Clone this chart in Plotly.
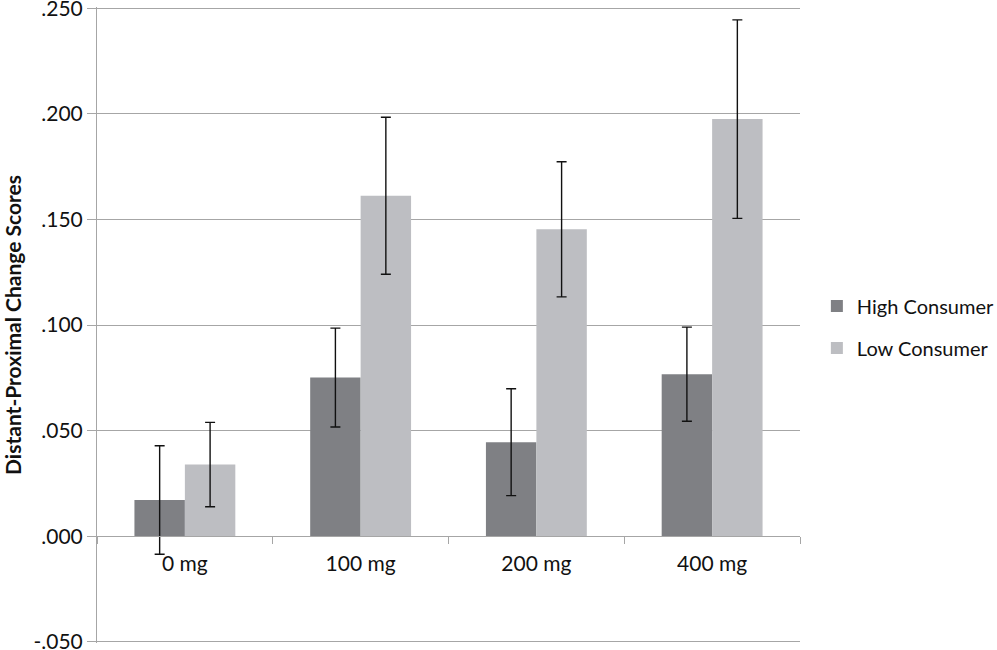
import plotly.graph_objects as go

categories = ["0 mg", "100 mg", "200 mg", "400 mg"]
high_consumer = [0.0171, 0.0751, 0.0445, 0.0767]
high_err = [0.0257, 0.0234, 0.0253, 0.0223]
low_consumer = [0.0339, 0.1612, 0.1453, 0.1975]
low_err = [0.0200, 0.0372, 0.0320, 0.0470]
y_tickvals = [-0.05, 0.0, 0.05, 0.10, 0.15, 0.20, 0.25]
y_ticktext = ["-.050", ".000", ".050", ".100", ".150", ".200", ".250"]

FONT = "Lato"
TXT = "#111111"
GRID = "#a6a6a6"

fig = go.Figure()
fig.add_trace(go.Bar(
    name="High Consumer", x=categories, y=high_consumer,
    marker=dict(color="#7f8084", line=dict(width=0)),
    error_y=dict(type="data", array=high_err, color="#111111", thickness=1.4, width=5),
    legendgroup="h",
))
fig.add_trace(go.Bar(
    name="Low Consumer", x=categories, y=low_consumer,
    marker=dict(color="#bdbec2", line=dict(width=0)),
    error_y=dict(type="data", array=low_err, color="#111111", thickness=1.4, width=5),
    legendgroup="l",
))

fig.update_layout(
    width=997, height=650,
    margin=dict(l=97, r=197, t=7, b=7, autoexpand=False),
    paper_bgcolor="white", plot_bgcolor="white",
    barmode="group", bargap=0.426, bargroupgap=0,
    font=dict(family=FONT, color=TXT, size=21),
    legend=dict(
        x=1.024, xanchor="left", y=0.497, yanchor="middle",
        font=dict(family=FONT, size=20, color=TXT),
        traceorder="grouped", tracegroupgap=13,
        bgcolor="rgba(0,0,0,0)",
    ),
    showlegend=True,
)
fig.update_xaxes(
    anchor="free", position=0.0506 / 0.3012, automargin=False,
    showgrid=False, showline=True, linecolor=GRID, linewidth=1,
    ticks="outside", tickson="boundaries", ticklen=7, tickcolor=GRID,
    ticklabelstandoff=9,
    tickfont=dict(family=FONT, size=21, color=TXT),
)
fig.update_yaxes(
    range=[-0.0506, 0.2506], tickvals=y_tickvals, ticktext=y_ticktext,
    automargin=False, ticklabeloverflow="allow",
    showgrid=True, gridcolor=GRID, gridwidth=1,
    zeroline=False, showline=True, linecolor=GRID, linewidth=1,
    ticks="outside", ticklen=9, tickcolor=GRID,
    tickfont=dict(family=FONT, size=21, color=TXT),
    title=dict(text="<b>Distant-Proximal Change Scores</b>",
               font=dict(family=FONT, size=21, color=TXT), standoff=25),
)

fig.write_html("out.html", config={"displayModeBar": False},
               post_script="document.body.style.margin='0';")
